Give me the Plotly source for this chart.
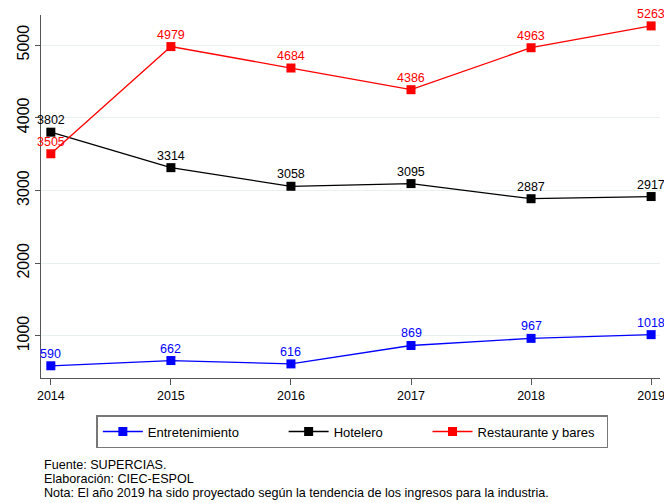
import plotly.graph_objects as go

years = [2014, 2015, 2016, 2017, 2018, 2019]
entretenimiento = [590, 662, 616, 869, 967, 1018]
hotelero = [3802, 3314, 3058, 3095, 2887, 2917]
restaurantes = [3505, 4979, 4684, 4386, 4963, 5263]

series = [
    ("Entretenimiento", entretenimiento, "#0000ff"),
    ("Hotelero", hotelero, "#000000"),
    ("Restaurante y bares", restaurantes, "#ff0000"),
]

notes = [
    "Fuente: SUPERCIAS.",
    "Elaboración: CIEC-ESPOL",
    "Nota: El año 2019 ha sido proyectado según la tendencia de los ingresos para la industria.",
]

FONT = "Liberation Sans, Arial, sans-serif"
NBSP = "\u00a0"

fig = go.Figure()
annotations = []
for i, (name, vals, color) in enumerate(series):
    # trailing no-break spaces widen the legend entries like the original
    pad = NBSP * (11 if i < len(series) - 1 else 2)
    fig.add_trace(
        go.Scatter(
            x=years,
            y=vals,
            name=name + pad,
            mode="lines+markers",
            line=dict(color=color, width=1.3),
            marker=dict(symbol="square", size=9, color=color),
            cliponaxis=False,
        )
    )
    # value labels sitting right on top of each marker
    for yr, v in zip(years, vals):
        annotations.append(
            dict(
                x=yr, y=v, text=str(v), showarrow=False,
                xanchor="center", yanchor="bottom", yshift=3,
                font=dict(color=color, size=12.5, family=FONT),
            )
        )

# footnotes (plot area is 363 px tall, bottom edge is y=0 in paper units)
for i, line in enumerate(notes):
    annotations.append(
        dict(
            text=line,
            xref="paper", yref="paper",
            x=0.002, y=-(87 + 14 * i) / 363,
            xanchor="left", yanchor="middle",
            showarrow=False,
            font=dict(size=12.6, family=FONT, color="#000"),
        )
    )

fig.update_layout(
    width=664,
    height=495,
    paper_bgcolor="white",
    plot_bgcolor="white",
    margin=dict(l=31, r=7, t=7, b=125),
    font=dict(family=FONT, size=12, color="#000"),
    showlegend=True,
    legend=dict(
        orientation="h",
        x=0.503,
        xanchor="center",
        y=-0.102,
        yanchor="top",
        bordercolor="#777",
        borderwidth=1.5,
        font=dict(size=13),
        itemwidth=40,
        traceorder="normal",
    ),
    annotations=annotations,
)

fig.update_xaxes(
    range=[2013.918, 2019.074],
    tickmode="array",
    tickvals=years,
    ticks="outside",
    ticklen=6,
    tickcolor="#555",
    showline=True,
    linecolor="#555",
    linewidth=1,
    showgrid=False,
    zeroline=False,
    tickfont=dict(size=12.5),
)
fig.update_yaxes(
    range=[422, 5413],
    tickvals=[1000, 2000, 3000, 4000, 5000],
    tickangle=-90,
    ticks="outside",
    ticklen=5,
    tickcolor="#555",
    showline=True,
    linecolor="#555",
    linewidth=1,
    showgrid=True,
    gridcolor="#e8f0f0",
    zeroline=False,
    tickfont=dict(size=16),
)

fig.write_html("out.html")
